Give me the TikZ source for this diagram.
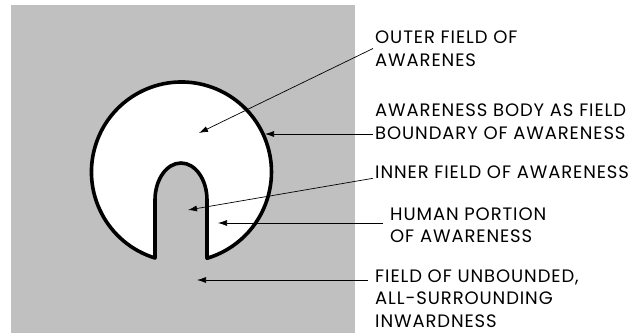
\documentclass[tikz,border=0pt]{standalone}
\usepackage{fontspec}
\setmainfont{Poppins}[LetterSpace=5]
\usepackage{tikz}
\usetikzlibrary{positioning,arrows.meta}
\usepackage{xcolor}

\definecolor{fieldgray}{RGB}{192,192,192}
\newcommand{\notefont}{\fontsize{18}{22.5}\selectfont}

\begin{document}
\begin{tikzpicture}[
		x=1pt, y=1pt,
		textlabel/.style={anchor=west, align=left, inner sep=2pt, font=\notefont},
		pointer/.style={-{Latex[length=9pt, width=6pt]}, line width=0.7pt},
		shell/.style={draw, fill=white, line width=3.6pt, line join=round}
		]
		
		\useasboundingbox (0,0) rectangle (633,-333);
		\fill[fieldgray] (11,-5) rectangle (355,-333);
		
		% ---- awareness body with the inner notch ----
		\draw[shell] (155,-258) arc[start angle=252.9, end angle=-73.5, radius=90]
			-- (207,-200) arc[start angle=0, end angle=180, x radius=26, y radius=37] -- cycle;
		
		\coordinate (tipouter) at (199,-133);
		\coordinate (tipbody) at (265,-134);
		\coordinate (tipinner) at (188,-210);
		\coordinate (tiphuman) at (218,-223);
		\coordinate (tipfield) at (197,-280);
		
		\node[textlabel] (outer) at (373,-48.5) {OUTER FIELD OF\\AWARENES};
		\node[textlabel] (body) at (373,-121.5) {AWARENESS BODY AS FIELD\\BOUNDARY OF AWARENESS};
		\node[textlabel] (inner) at (373,-172) {INNER FIELD OF AWARENESS};
		\node[textlabel] (human) at (388,-225) {HUMAN PORTION\\OF AWARENESS};
		\node[textlabel] (unbounded) at (373,-298.5) {FIELD OF UNBOUNDED,\\ALL-SURROUNDING\\INWARDNESS};
		
		\draw[pointer] (outer.west) -- (tipouter);
		\draw[pointer] (body.west |- tipbody) -- (tipbody);
		\draw[pointer] (inner.base west) -- (tipinner);
		\draw[pointer] ([xshift=-5pt]human.west |- tiphuman) -- (tiphuman);
		\draw[pointer] ([xshift=-5pt]unbounded.west |- tipfield) -- (tipfield);
		
	\end{tikzpicture}
\end{document}
